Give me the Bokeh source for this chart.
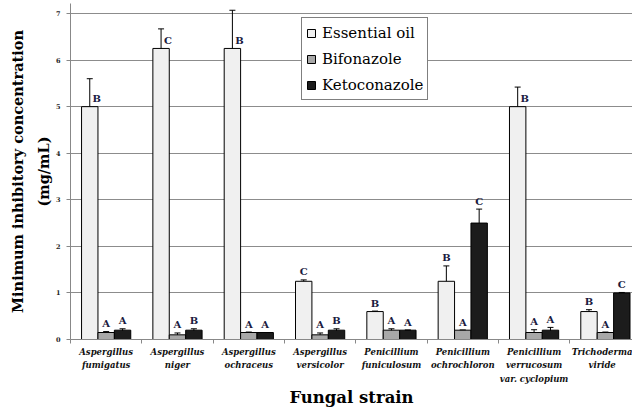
import numpy as np
from bokeh.plotting import figure
from bokeh.models import (ColumnDataSource, Whisker, FixedTicker, Legend, LegendItem,
                          Range1d, TeeHead)
from bokeh.core.properties import value
from bokeh.embed import file_html
from bokeh.resources import INLINE

# ---------------- data ----------------
strains = ["Aspergillus\nfumigatus", "Aspergillus\nniger", "Aspergillus\nochraceus",
           "Aspergillus\nversicolor", "Penicillium\nfuniculosum", "Penicillium\nochrochloron",
           "Penicillium\nverrucosum\nvar. cyclopium", "Trichoderma\nviride"]
series = ["Essential oil", "Bifonazole", "Ketoconazole"]
eo = [5.0, 6.25, 6.25, 1.25, 0.6, 1.25, 5.0, 0.6]
eo_err = [0.6, 0.42, 0.82, 0.03, 0.01, 0.33, 0.42, 0.04]
bif = [0.15, 0.1, 0.15, 0.1, 0.2, 0.2, 0.15, 0.15]
bif_err = [0.02, 0.04, 0.01, 0.04, 0.03, 0.0, 0.06, 0.01]
keto = [0.2, 0.2, 0.15, 0.2, 0.2, 2.5, 0.2, 1.0]
keto_err = [0.03, 0.03, 0.0, 0.03, 0.0, 0.3, 0.06, 0.01]
eo_letters = ["B", "C", "B", "C", "B", "B", "B", "B"]
bif_letters = ["A", "A", "A", "A", "A", "A", "A", "A"]
keto_letters = ["A", "B", "A", "B", "A", "C", "A", "C"]
y_ticks = [0, 1, 2, 3, 4, 5, 6, 7]

colors = ["#f0f0f0", "#a8a8a8", "#1c1c1c"]
SERIF = "DejaVu Serif"

# ---------------- figure ----------------
n = len(strains)
p = figure(width=632, height=411, output_backend="svg", toolbar_location=None,
           x_range=Range1d(0, 7.88), y_range=Range1d(0, 7.215),
           min_border_left=70, min_border_right=0, min_border_top=3, min_border_bottom=72)
p.outline_line_color = None
p.background_fill_color = "white"

centers = np.arange(n) + 0.5
bw = 0.23
offsets = [-bw, 0.0, bw]
vals_all = [eo, bif, keto]
errs_all = [eo_err, bif_err, keto_err]
letters_all = [eo_letters, bif_letters, keto_letters]

renderers = []
for k in range(3):
    xs = centers + offsets[k]
    vals = np.array(vals_all[k])
    errs = np.array(errs_all[k])
    src = ColumnDataSource(dict(x=xs, top=vals, upper=vals + errs, lower=vals - errs))
    r = p.vbar(x="x", top="top", width=bw, bottom=0, source=src,
               fill_color=colors[k], line_color="black", line_width=1)
    renderers.append(r)
    w = Whisker(base="x", upper="upper", lower="lower", source=src, dimension="height",
                line_color="black", line_width=1,
                upper_head=TeeHead(size=6, line_color="black", line_width=1),
                lower_head=TeeHead(size=6, line_color="black", line_width=1))
    p.add_layout(w)
    big = errs >= 0.4
    ly = np.where(big, vals, vals + errs)
    xo = np.where(big, 7, 0)
    lsrc = ColumnDataSource(dict(x=xs, y=ly, t=letters_all[k], xo=xo))
    p.text(x="x", y="y", text="t", source=lsrc, x_offset="xo", y_offset=-8,
           text_align="center", text_baseline="alphabetic",
           text_font=value(SERIF), text_font_style="bold", text_font_size="10px",
           text_color="#1a1a40")

legend = Legend(items=[LegendItem(label=series[k], renderers=[renderers[k]]) for k in range(3)],
                location=(231, 239), orientation="vertical")
legend.label_text_font = SERIF
legend.label_text_font_size = "15px"
legend.label_text_color = "black"
legend.glyph_width = 10
legend.glyph_height = 10
legend.label_height = 21
legend.label_standoff = 6
legend.spacing = 5
legend.padding = 4
legend.margin = 0
legend.border_line_color = "black"
legend.border_line_width = 1
legend.background_fill_alpha = 1
p.add_layout(legend)

p.xaxis.ticker = FixedTicker(ticks=list(centers), minor_ticks=list(range(n + 1)))
p.xaxis.major_label_overrides = {float(c): s for c, s in zip(centers, strains)}
p.xaxis.major_tick_line_color = None
p.xaxis.major_tick_in = 0
p.xaxis.major_tick_out = 4
p.xaxis.minor_tick_in = 0
p.xaxis.minor_tick_out = 4
p.xaxis.minor_tick_line_color = "#888888"
p.xaxis.axis_line_color = "#888888"
p.xaxis.major_label_text_font = SERIF
p.xaxis.major_label_text_font_style = "bold italic"
p.xaxis.major_label_text_font_size = "8.5px"
p.xaxis.major_label_text_line_height = 1.35
p.xaxis.major_label_text_color = "#111111"
p.xaxis.major_label_standoff = 3
p.xaxis.axis_label = "Fungal strain"
p.xaxis.axis_label_text_font = SERIF
p.xaxis.axis_label_text_font_style = "bold"
p.xaxis.axis_label_text_font_size = "16.5px"
p.xaxis.axis_label_text_color = "black"
p.xaxis.axis_label_standoff = 1

p.yaxis.ticker = FixedTicker(ticks=y_ticks)
p.yaxis.minor_tick_line_color = None
p.yaxis.major_tick_in = 0
p.yaxis.major_tick_out = 4
p.yaxis.major_tick_line_color = "#888888"
p.yaxis.axis_line_color = "#888888"
p.yaxis.major_label_text_font = SERIF
p.yaxis.major_label_text_font_style = "bold"
p.yaxis.major_label_text_font_size = "6.5px"
p.yaxis.major_label_text_color = "#222222"
p.yaxis.major_label_standoff = 6
p.yaxis.axis_label = "Minimum inhibitory concentration\n(mg/mL)"
p.yaxis.axis_label_text_font = SERIF
p.yaxis.axis_label_text_font_style = "bold"
p.yaxis.axis_label_text_font_size = "14.5px"
p.yaxis.axis_label_text_line_height = 1.55
p.yaxis.axis_label_text_color = "black"
p.yaxis.axis_label_standoff = 1

p.xgrid.grid_line_color = None
p.ygrid.grid_line_color = "#8c8c8c"
p.ygrid.grid_line_width = 1

open("out.html", "w").write(file_html(p, INLINE))
